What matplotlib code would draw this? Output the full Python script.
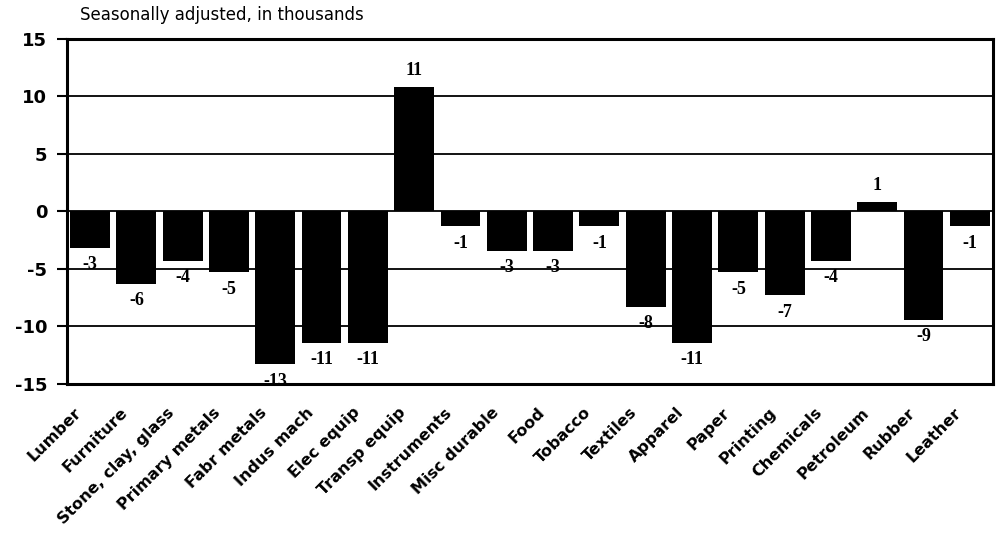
import matplotlib.pyplot as plt
import matplotlib.transforms as mtransforms
import numpy as np

# employment change by industry, seasonally adjusted (thousands)
industries = ['Lumber', 'Furniture', 'Stone, clay, glass', 'Primary metals',
              'Fabr metals', 'Indus mach', 'Elec equip', 'Transp equip',
              'Instruments', 'Misc durable', 'Food', 'Tobacco', 'Textiles',
              'Apparel', 'Paper', 'Printing', 'Chemicals', 'Petroleum',
              'Rubber', 'Leather']
change = [-3.2, -6.3, -4.3, -5.3, -13.3, -11.4, -11.4, 10.8,
          -1.3, -3.4, -3.4, -1.3, -8.3, -11.4, -5.3, -7.3, -4.3, 0.8,
          -9.4, -1.3]
yticks = [-15, -10, -5, 0, 5, 10, 15]

fig = plt.figure(figsize=(9.98, 5.4), dpi=100)
ax = fig.add_axes([0.067, 0.289, 0.928, 0.639])

x = np.arange(len(industries))
ax.bar(x, change, width=0.86, color='black', zorder=3)

for xi, v in zip(x, change):
    off = 12 if v > 0 else -12
    ax.annotate('%d' % round(v), (xi, v), xytext=(0, off),
                textcoords='offset points', ha='center', va='center',
                fontsize=13, fontweight='bold', family='Liberation Serif',
                zorder=4)

ax.set_xlim(-0.5, len(industries) - 0.5)
ax.set_ylim(-15, 15)
ax.set_yticks(yticks)
ax.set_yticklabels([str(t) for t in yticks], fontsize=13, fontweight='bold')
for t in yticks[1:-1]:
    ax.axhline(t, color='black', lw=1.3, zorder=1)

ax.set_xticks(x)
ax.set_xticklabels(industries, rotation=45, ha='right', rotation_mode='anchor',
                   fontsize=11.5, fontweight='bold')
ax.tick_params(axis='x', length=0, pad=10)
ax.tick_params(axis='y', length=7, width=1.5, pad=7)

# nudge the slanted category names down and to the left
shift = mtransforms.ScaledTranslation(-16 / 100, -7 / 100, fig.dpi_scale_trans)
for lab in ax.get_xticklabels():
    lab.set_transform(lab.get_transform() + shift)

for s in ax.spines.values():
    s.set_linewidth(2.2)

fig.text(0.08, 0.972, 'Seasonally adjusted, in thousands', fontsize=12,
         va='center', ha='left')

plt.savefig('out.png', dpi=100)
